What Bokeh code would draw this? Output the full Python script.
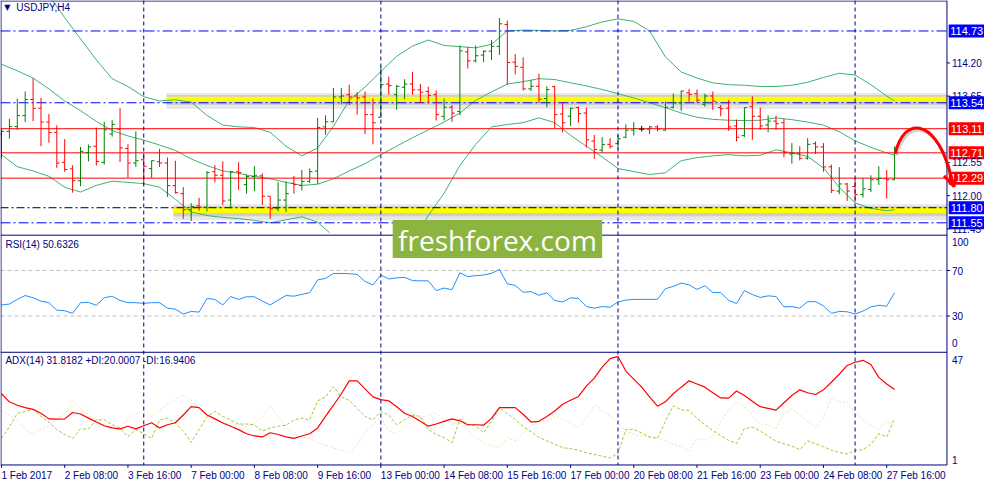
import numpy as np
from bokeh.plotting import figure
from bokeh.models import (Range1d, Label, BoxAnnotation, Arrow, OpenHead, ColumnDataSource)
from bokeh.embed import file_html
from bokeh.resources import INLINE

# ---------------- data (USDJPY H4) ----------------
date_ticks = [0, 8, 16, 24, 32, 40, 48, 56, 64, 72, 80, 88, 96, 104, 112]
date_labels = ["1 Feb 2017", "2 Feb 08:00", "3 Feb 16:00", "7 Feb 00:00", "8 Feb 08:00",
               "9 Feb 16:00", "13 Feb 00:00", "14 Feb 08:00", "15 Feb 16:00", "17 Feb 00:00",
               "20 Feb 08:00", "21 Feb 16:00", "23 Feb 00:00", "24 Feb 08:00", "27 Feb 16:00"]
week_starts = [18, 48, 78, 108]

opens = [113.022, 113.065, 113.145, 113.327, 113.594, 113.449, 113.220, 113.049, 112.552, 112.445,
         112.247, 112.712, 112.819, 112.552, 113.022, 113.102, 112.782, 112.541, 112.595, 112.450,
         112.563, 112.541, 112.167, 112.034, 111.767, 111.831, 111.809, 112.397, 112.338, 111.927,
         112.397, 112.183, 112.317, 112.328, 111.991, 111.783, 111.927, 112.205, 112.167, 112.237,
         112.408, 113.140, 113.225, 113.636, 113.674, 113.652, 113.636, 113.343, 113.300, 113.850,
         113.674, 113.797, 113.850, 113.754, 113.727, 113.674, 113.316, 113.465, 113.396, 114.384,
         114.235, 114.331, 114.395, 114.475, 114.838, 114.213, 114.128, 113.770, 113.813, 113.610,
         113.807, 113.353, 113.316, 113.460, 113.369, 112.905, 112.755, 112.851, 112.862, 112.969,
         113.086, 113.102, 113.102, 113.140, 113.086, 113.465, 113.540, 113.706, 113.690, 113.514,
         113.652, 113.460, 113.449, 113.156, 112.995, 113.476, 113.316, 113.172, 113.236, 113.209,
         112.691, 112.702, 112.621, 112.862, 112.808, 112.477, 112.077, 112.194, 112.151, 112.018,
         112.103, 112.263, 112.285, 112.263]
highs = [113.102, 113.273, 113.610, 113.727, 113.946, 113.620, 113.353, 113.166, 112.937, 112.504,
         112.808, 112.846, 113.129, 113.225, 113.252, 113.449, 112.851, 113.065, 112.702, 112.584,
         112.776, 112.632, 112.579, 112.141, 111.874, 111.964, 112.408, 112.504, 112.568, 112.408,
         112.552, 112.344, 112.488, 112.370, 111.991, 112.221, 112.237, 112.328, 112.424, 112.450,
         113.289, 113.332, 113.786, 113.786, 113.839, 113.716, 113.727, 113.610, 114.144, 113.973,
         113.834, 113.930, 114.048, 113.850, 113.807, 113.743, 113.610, 113.503, 114.491, 114.464,
         114.491, 114.411, 114.582, 114.945, 114.902, 114.347, 114.293, 113.919, 114.021, 113.813,
         113.823, 113.540, 113.460, 113.476, 113.460, 113.006, 112.969, 112.953, 113.006, 113.182,
         113.220, 113.156, 113.156, 113.166, 113.556, 113.690, 113.743, 113.770, 113.759, 113.690,
         113.727, 113.503, 113.583, 113.262, 113.460, 113.647, 113.460, 113.332, 113.327, 113.273,
         112.872, 112.819, 112.953, 112.899, 112.872, 112.515, 112.472, 112.210, 112.290, 112.290,
         112.338, 112.488, 112.424, 112.819]
lows = [112.621, 112.942, 113.091, 113.220, 113.236, 112.819, 112.878, 112.461, 112.397, 112.050,
        112.157, 112.568, 112.499, 112.515, 112.979, 112.557, 112.295, 112.477, 112.178, 112.295,
        112.477, 111.980, 112.034, 111.617, 111.580, 111.751, 111.740, 112.221, 111.847, 111.793,
        112.098, 112.034, 112.076, 111.847, 111.617, 111.740, 111.729, 112.034, 112.087, 112.210,
        112.194, 113.011, 113.220, 113.514, 113.503, 113.343, 113.022, 112.851, 113.289, 113.674,
        113.423, 113.599, 113.674, 113.540, 113.540, 113.246, 113.246, 113.225, 113.332, 114.106,
        114.208, 114.213, 114.251, 114.331, 113.839, 114.010, 113.743, 113.733, 113.540, 113.465,
        113.118, 113.049, 113.156, 113.209, 112.798, 112.611, 112.712, 112.782, 112.766, 112.953,
        112.995, 113.065, 113.022, 113.065, 113.075, 113.449, 113.407, 113.556, 113.540, 113.476,
        113.423, 113.316, 113.075, 112.899, 112.969, 112.926, 113.091, 113.049, 113.091, 112.637,
        112.531, 112.584, 112.595, 112.691, 112.397, 112.044, 112.023, 111.916, 111.900, 111.970,
        112.060, 112.178, 111.954, 112.258]
closes = [113.065, 113.145, 113.327, 113.594, 113.449, 113.220, 113.049, 112.541, 112.434, 112.247,
          112.734, 112.808, 112.568, 113.091, 113.182, 112.792, 112.541, 112.579, 112.488, 112.579,
          112.541, 112.167, 112.050, 111.767, 111.820, 111.809, 112.381, 112.338, 111.911, 112.397,
          112.381, 112.317, 112.338, 111.991, 111.783, 111.927, 112.034, 112.183, 112.237, 112.397,
          113.129, 113.225, 113.636, 113.652, 113.636, 113.620, 113.343, 113.209, 113.839, 113.823,
          113.813, 113.850, 113.754, 113.716, 113.663, 113.343, 113.465, 113.369, 114.400, 114.235,
          114.320, 114.395, 114.475, 114.849, 114.208, 114.144, 113.770, 113.813, 113.599, 113.759,
          113.343, 113.209, 113.449, 113.359, 112.926, 112.766, 112.846, 112.819, 112.942, 113.086,
          113.113, 113.102, 113.140, 113.102, 113.465, 113.540, 113.733, 113.679, 113.583, 113.652,
          113.567, 113.439, 113.140, 112.969, 113.460, 113.316, 113.156, 113.236, 113.193, 112.712,
          112.702, 112.621, 112.851, 112.808, 112.477, 112.087, 112.194, 112.077, 112.018, 112.114,
          112.263, 112.285, 112.263, 112.702]

band_x = list(range(0, 113, 2)) + [113]
bb_upper = [116.30, 116.00, 115.65, 115.32, 114.95, 114.60, 114.25, 113.94, 113.81, 113.64,
            113.57, 113.59, 113.55, 113.33, 113.17, 113.14, 113.13, 113.05, 112.82, 112.66,
            112.79, 113.15, 113.58, 113.80, 114.06, 114.31, 114.48, 114.58, 114.49, 114.47,
            114.45, 114.51, 114.73, 114.745, 114.74, 114.73, 114.74, 114.80, 114.88, 114.93,
            114.89, 114.73, 114.30, 114.05, 113.95, 113.87, 113.84, 113.83, 113.81, 113.81,
            113.83, 113.88, 113.96, 114.03, 114.00, 113.84, 113.65, 113.57]
bb_middle = [114.18, 114.07, 113.95, 113.77, 113.57, 113.41, 113.23, 113.08, 112.99, 112.92,
             112.84, 112.75, 112.61, 112.50, 112.41, 112.37, 112.32, 112.28, 112.22, 112.17,
             112.19, 112.28, 112.41, 112.53, 112.68, 112.82, 112.96, 113.09, 113.22, 113.37,
             113.58, 113.72, 113.85, 113.89, 113.94, 113.925, 113.87, 113.82, 113.76, 113.69,
             113.62, 113.54, 113.46, 113.37, 113.30, 113.265, 113.25, 113.245, 113.25, 113.29,
             113.26, 113.22, 113.17, 113.06, 112.91, 112.80, 112.71, 112.67]
bb_lower = [112.68, 112.48, 112.41, 112.32, 112.14, 112.06, 112.17, 112.24, 112.22, 112.20,
            112.14, 111.94, 111.73, 111.67, 111.64, 111.62, 111.59, 111.55, 111.60, 111.65,
            111.56, 111.33, 111.15, 111.02, 110.96, 111.02, 111.25, 111.67, 112.04, 112.50,
            112.85, 113.14, 113.18, 113.21, 113.29, 113.21, 113.00, 112.82, 112.64, 112.45,
            112.40, 112.35, 112.38, 112.58, 112.63, 112.66, 112.68, 112.66, 112.67, 112.76,
            112.71, 112.65, 112.46, 112.14, 111.88, 111.79, 111.75, 111.77]

rsi = [39.7, 40.5, 44.6, 48.0, 46.0, 43.0, 41.7, 35.1, 34.6, 32.3,
       41.7, 42.0, 39.4, 46.0, 47.4, 43.7, 41.7, 41.7, 41.1, 41.7,
       41.7, 36.9, 36.0, 31.7, 34.0, 33.4, 45.4, 44.6, 39.7, 47.1,
       44.6, 46.9, 46.9, 43.1, 39.7, 44.0, 48.0, 47.4, 49.0, 50.5,
       61.7, 63.1, 67.4, 67.4, 67.2, 66.6, 60.3, 57.4, 66.0, 62.6,
       63.5, 64.0, 61.1, 60.9, 60.9, 52.3, 54.6, 53.1, 68.0, 64.6,
       65.5, 66.0, 67.5, 70.9, 58.3, 56.9, 50.9, 51.4, 48.3, 50.3,
       43.7, 42.3, 46.0, 45.4, 38.3, 36.9, 38.3, 37.7, 42.3, 44.0,
       44.6, 44.6, 44.6, 44.6, 54.0, 56.0, 58.9, 57.4, 53.4, 56.6,
       50.6, 50.6, 43.7, 40.9, 52.3, 48.9, 46.3, 47.7, 47.1, 38.0,
       38.3, 36.9, 42.6, 42.6, 38.9, 32.3, 34.0, 33.7, 31.7, 34.3,
       38.0, 39.4, 38.6, 50.6]

adx = [30.1, 26.8, 25.4, 24.4, 23.7, 22.1, 19.8, 19.7, 19.8, 22.4,
       21.8, 20.1, 18.5, 17.0, 16.1, 15.7, 16.8, 15.7, 17.0, 18.2,
       16.1, 17.4, 18.2, 21.4, 24.8, 24.4, 21.4, 19.8, 18.1, 16.8,
       15.4, 13.7, 12.8, 12.4, 14.1, 13.4, 12.4, 11.8, 12.8, 13.7,
       16.1, 20.8, 25.4, 30.1, 35.4, 35.4, 32.1, 28.8, 27.7, 27.2,
       24.8, 22.1, 20.8, 18.8, 16.8, 17.7, 18.8, 19.8, 19.0, 17.4,
       17.4, 17.2, 20.0, 24.4, 24.4, 24.4, 21.7, 18.5, 18.8, 20.8,
       23.0, 25.8, 27.4, 29.0, 33.2, 36.5, 41.0, 44.5, 45.4, 39.4,
       36.1, 32.8, 28.8, 25.0, 26.8, 30.1, 32.8, 35.4, 34.1, 32.8,
       30.5, 28.4, 28.3, 31.2, 29.4, 27.0, 24.8, 24.1, 23.4, 26.4,
       29.4, 31.7, 30.5, 29.8, 31.7, 34.8, 38.1, 41.7, 43.0, 43.8,
       42.1, 36.8, 34.1, 31.8]
plus_di = [11.8, 16.5, 22.1, 22.8, 23.7, 20.8, 18.5, 15.4, 13.4, 11.8,
           15.7, 15.7, 19.4, 19.4, 17.4, 16.1, 12.5, 15.4, 13.7, 11.8,
           19.4, 20.1, 18.1, 14.8, 10.1, 15.4, 20.8, 22.8, 20.8, 19.4,
           17.7, 17.7, 17.4, 14.8, 16.1, 16.8, 17.2, 19.4, 20.1, 19.4,
           27.2, 28.8, 33.0, 28.8, 27.4, 24.1, 20.8, 19.4, 22.8, 21.4,
           17.4, 19.4, 21.4, 20.8, 15.4, 13.4, 12.1, 10.1, 19.7, 17.4,
           17.0, 14.1, 18.8, 24.1, 22.0, 19.5, 16.8, 14.5, 12.2, 10.8,
           9.4, 8.0, 7.6, 7.0, 5.9, 5.2, 4.5, 3.8, 5.7, 15.5,
           15.5, 14.0, 12.4, 11.8, 18.8, 25.2, 23.5, 23.2, 20.1, 17.4,
           15.0, 13.0, 11.0, 9.7, 15.8, 16.4, 14.8, 12.8, 10.6, 9.6,
           8.6, 7.2, 10.8, 9.6, 8.4, 7.0, 6.0, 5.4, 6.8, 7.2,
           9.4, 13.7, 12.4, 20.0]
minus_di = [23.4, 21.4, 19.4, 15.5, 13.5, 15.8, 17.1, 20.0, 21.6, 27.2,
            24.1, 21.4, 19.4, 17.1, 15.4, 16.2, 19.5, 21.8, 22.8, 20.8,
            23.4, 25.6, 28.0, 29.6, 27.4, 23.4, 21.6, 20.1, 18.4, 17.2,
            17.4, 16.6, 17.8, 20.6, 24.8, 20.8, 16.8, 13.2, 12.6, 11.6,
            10.2, 9.0, 7.8, 7.1, 5.7, 9.4, 14.0, 17.4, 20.4, 15.0,
            13.5, 16.8, 18.4, 20.1, 21.2, 22.0, 19.6, 17.6, 18.0, 15.0,
            12.2, 10.0, 8.8, 8.1, 12.1, 10.8, 14.1, 16.8, 19.0, 18.8,
            20.8, 19.4, 18.1, 16.1, 20.1, 25.4, 23.4, 20.8, 18.1, 14.8,
            13.5, 12.8, 12.4, 12.1, 10.8, 9.4, 8.4, 6.4, 11.8, 11.0,
            12.8, 18.8, 23.4, 26.8, 24.8, 21.4, 17.7, 17.4, 15.7, 22.1,
            23.8, 21.4, 18.8, 16.1, 20.1, 28.5, 26.8, 26.8, 22.1, 19.4,
            17.2, 15.6, 19.0, 16.9]

price_ticks = [114.20, 113.65, 112.55, 112.00, 111.45]
level_values = [114.73, 113.54, 113.11, 112.71, 112.29, 111.80, 111.55]
level_box_colors = ["#0000ff", "#0000ff", "#ff0000", "#ff0000", "#ff0000", "#0000ff", "#0000ff"]
level_line_colors = ["#0000ff", "#0000ff", "#ff0000", "#ff0000", "#ff0000", "#000000", "#0000ff"]
level_line_dash = ["10 3 2 3", "10 3 2 3", "solid", "solid", "solid", "8 3 2 3", "10 3 2 3"]
zone_start = [20.9, 21.75]
zone_price = [113.60, 111.755]

rsi_levels = [70, 30]
rsi_scale = {95.5: "100", 70: "70", 30: "30", 6.2: "0"}
adx_scale = {44.1: "47", 2.9: "1"}

# forecast path (bar index, price): start at last close, peak near 113.11, end below 112.29
fc_peak_price = 113.30
fc_end = (119.875, 112.44)
fc_tip = (120.5, 112.15)

# ---------------- layout / styling ----------------
NAVY = "#000080"
FONT = "Liberation Sans"
FS = "10px"
# the figure frame shows the screen strip x 2..998, y 2..498 of the original terminal window
SX0, SX1, SY0, SY1 = 2, 998, 2, 498
CHART_RIGHT = 960          # right scale line
PANEL_TOPS = [242.5, 362.5]
PANEL_BOTTOM = 478


def calibrated(va, ya, vb, yb):
    """Range whose value va sits at screen row ya and vb at row yb."""
    k = (va - vb) / (yb - ya)
    return Range1d(va - (SY1 - ya) * k, va + (ya - SY0) * k)


n = len(opens)
xs = np.arange(n)
bar_px = 8.0
x_first = 3.0
x_range = Range1d((SX0 - x_first) / bar_px, (SX1 - x_first) / bar_px)
x_chart_end = (CHART_RIGHT - x_first) / bar_px

p = figure(width=984, height=484, x_range=x_range,
           y_range=calibrated(114.20, 66, 112.00, 202),
           output_backend="svg", toolbar_location=None,
           x_axis_location=None, y_axis_location=None,
           min_border_left=0, min_border_right=0, min_border_top=0, min_border_bottom=0)
p.extra_x_ranges = {"px": Range1d(SX0, SX1)}
p.extra_y_ranges = {"px": Range1d(SY1, SY0),
                    "rsi": calibrated(70, 278.7, 30, 325.3),
                    "adx": calibrated(47.3, 362, 0.9, 478)}
p.xgrid.visible = False
p.ygrid.visible = False
p.outline_line_color = None
p.background_fill_color = "white"
p.border_fill_color = "white"

# ---------- price panel ----------
for xs0, yp in zip(zone_start, zone_price):
    p.segment(x0=[xs0], y0=[yp - 0.03], x1=[x_chart_end], y1=[yp - 0.03], line_color="#808080",
              line_alpha=0.18, line_width=16, level="image")
    p.segment(x0=[xs0], y0=[yp - 0.015], x1=[x_chart_end], y1=[yp - 0.015], line_color="#808080",
              line_alpha=0.25, line_width=10, level="image")
    p.segment(x0=[xs0], y0=[yp], x1=[x_chart_end], y1=[yp], line_color="#ffff00",
              line_width=5, level="image")

for arr in (bb_upper, bb_middle, bb_lower):
    p.line(band_x, arr, line_color="#3cb371", line_width=1, level="image")

# white mask under the indicator panels (hides the band where it leaves the price window)
p.add_layout(BoxAnnotation(left=SX0, right=SX1, top=240, bottom=SY1, x_range_name="px",
                           y_range_name="px", fill_color="white", fill_alpha=1.0,
                           line_alpha=0, level="underlay"))

# horizontal price levels
for v, c, d in zip(level_values, level_line_colors, level_line_dash):
    p.segment(x0=[x_range.start], y0=[v], x1=[x_chart_end], y1=[v], line_color=c,
              line_dash=d, line_width=1)

# OHLC bars
colors = ["#008000" if c > o else ("#ff0000" if c < o else "#000000")
          for o, c in zip(opens, closes)]
src = ColumnDataSource(dict(x=xs, xl=xs - 0.35, xr=xs + 0.35, o=opens, h=highs, l=lows,
                            c=closes, col=colors))
p.segment(x0="x", y0="l", x1="x", y1="h", line_color="col", line_width=1, source=src)
p.segment(x0="xl", y0="o", x1="x", y1="o", line_color="col", line_width=1, source=src)
p.segment(x0="x", y0="c", x1="xr", y1="c", line_color="col", line_width=1, source=src)

# ---------- RSI ----------
for v in rsi_levels:
    p.segment(x0=[x_range.start], y0=[v], x1=[x_chart_end], y1=[v], y_range_name="rsi",
              line_color="#c0c0c0", line_dash="4 3", line_width=1)
p.line(xs, rsi, y_range_name="rsi", line_color="#1e90ff", line_width=1)

# ---------- ADX ----------
p.line(xs, minus_di, y_range_name="adx", line_color="#f5deb3", line_width=1, line_dash="2 2")
p.line(xs, plus_di, y_range_name="adx", line_color="#9acd32", line_width=1, line_dash="3 2")
p.line(xs, adx, y_range_name="adx", line_color="#ff0000", line_width=1.2)

# ---------- frame lines ----------
p.segment(x0=[SX0 + 0.5, SX0, CHART_RIGHT, SX0, SX0, SX0],
          y0=[SY0, SY0 + 0.5, SY0, PANEL_TOPS[0], PANEL_TOPS[1], PANEL_BOTTOM],
          x1=[SX0 + 0.5, CHART_RIGHT, CHART_RIGHT, CHART_RIGHT, CHART_RIGHT, CHART_RIGHT],
          y1=[PANEL_BOTTOM, SY0 + 0.5, PANEL_BOTTOM, PANEL_TOPS[0], PANEL_TOPS[1], PANEL_BOTTOM],
          x_range_name="px", y_range_name="px", line_color=NAVY, line_width=1)

# week separators
p.segment(x0=week_starts, y0=[SY0] * len(week_starts), x1=week_starts,
          y1=[PANEL_BOTTOM] * len(week_starts), y_range_name="px",
          line_color=NAVY, line_dash="4 3", line_width=1)

# ---------- scales ----------
p.segment(x0=[CHART_RIGHT] * len(price_ticks), y0=price_ticks,
          x1=[CHART_RIGHT + 3] * len(price_ticks), y1=price_ticks,
          x_range_name="px", line_color=NAVY, line_width=1)
for t in price_ticks:
    p.add_layout(Label(x=CHART_RIGHT + 5, y=t, x_range_name="px", text=f"{t:.2f}",
                       text_color=NAVY, text_font=FONT, text_font_size=FS,
                       text_align="left", text_baseline="middle"))
for v, s in rsi_scale.items():
    p.add_layout(Label(x=CHART_RIGHT + 5, y=v, x_range_name="px", y_range_name="rsi", text=s,
                       text_color=NAVY, text_font=FONT, text_font_size=FS,
                       text_align="left", text_baseline="middle"))
for v, s in adx_scale.items():
    p.add_layout(Label(x=CHART_RIGHT + 5, y=v, x_range_name="px", y_range_name="adx", text=s,
                       text_color=NAVY, text_font=FONT, text_font_size=FS,
                       text_align="left", text_baseline="middle"))
p.segment(x0=[CHART_RIGHT] * 2, y0=rsi_levels, x1=[CHART_RIGHT + 3] * 2, y1=rsi_levels,
          x_range_name="px", y_range_name="rsi", line_color=NAVY, line_width=1)

p.segment(x0=date_ticks, y0=[PANEL_BOTTOM] * len(date_ticks), x1=date_ticks,
          y1=[PANEL_BOTTOM + 3] * len(date_ticks), y_range_name="px",
          line_color=NAVY, line_width=1)
for t, s in zip(date_ticks, date_labels):
    p.add_layout(Label(x=t, y=489, y_range_name="px", text=s, text_color=NAVY,
                       text_font=FONT, text_font_size=FS, text_align="left",
                       text_baseline="middle"))

# coloured price-level tags
p.rect(x=[CHART_RIGHT + 20] * len(level_values), y=level_values, width=36, height=13,
       width_units="screen", height_units="screen", x_range_name="px",
       fill_color=level_box_colors, line_color=None)
for v in level_values:
    p.add_layout(Label(x=CHART_RIGHT + 20, y=v, x_range_name="px", text=f"{v:.2f}",
                       text_color="white", text_font=FONT, text_font_size="11px",
                       text_align="center", text_baseline="middle"))

# ---------- forecast arrow ----------
last = n - 1
x0a, y0a = last + 0.1, closes[last]
cx0a, cx1a = last + 1.1, last + 5.0
# soft shadow
p.bezier(x0=[x0a + 0.2], y0=[y0a - 0.04], x1=[fc_end[0] + 0.2], y1=[fc_end[1] - 0.04],
         cx0=[cx0a + 0.2], cy0=[fc_peak_price - 0.04], cx1=[cx1a + 0.2],
         cy1=[fc_peak_price - 0.04], line_color="#808080", line_alpha=0.35, line_width=3)
p.bezier(x0=[x0a], y0=[y0a], x1=[fc_end[0]], y1=[fc_end[1]],
         cx0=[cx0a], cy0=[fc_peak_price], cx1=[cx1a], cy1=[fc_peak_price],
         line_color="#ff0000", line_width=3)
p.add_layout(Arrow(x_start=fc_end[0] - 0.15, y_start=fc_end[1] + 0.07,
                   x_end=fc_tip[0], y_end=fc_tip[1],
                   line_color="#ff0000", line_width=3,
                   end=OpenHead(size=13, line_color="#ff0000", line_width=3)))

# ---------- watermark ----------
p.add_layout(BoxAnnotation(left=399, right=611, top=227, bottom=266, x_range_name="px",
                           y_range_name="px", fill_color="#8cb440", fill_alpha=1.0,
                           line_alpha=0))
p.add_layout(Label(x=505, y=247, x_range_name="px", y_range_name="px", text="freshforex.com",
                   text_color="white", text_font="Open Sans", text_font_size="28px",
                   text_align="center", text_baseline="middle"))

# ---------- titles ----------
p.add_layout(Label(x=9, y=9, x_range_name="px", y_range_name="px", text="▼", text_color=NAVY,
                   text_font="DejaVu Sans", text_font_size="8px", text_align="center",
                   text_baseline="middle"))
p.add_layout(Label(x=18, y=9, x_range_name="px", y_range_name="px", text="USDJPY,H4",
                   text_color=NAVY, text_font=FONT, text_font_size=FS, text_align="left",
                   text_baseline="middle"))
p.add_layout(Label(x=7, y=252, x_range_name="px", y_range_name="px", text="RSI(14) 50.6326",
                   text_color=NAVY, text_font=FONT, text_font_size=FS, text_align="left",
                   text_baseline="middle"))
p.add_layout(Label(x=7, y=371, x_range_name="px", y_range_name="px",
                   text="ADX(14) 31.8182 +DI:20.0007 -DI:16.9406", text_color=NAVY,
                   text_font=FONT, text_font_size=FS, text_align="left",
                   text_baseline="middle"))

open("out.html", "w").write(file_html(p, INLINE))
